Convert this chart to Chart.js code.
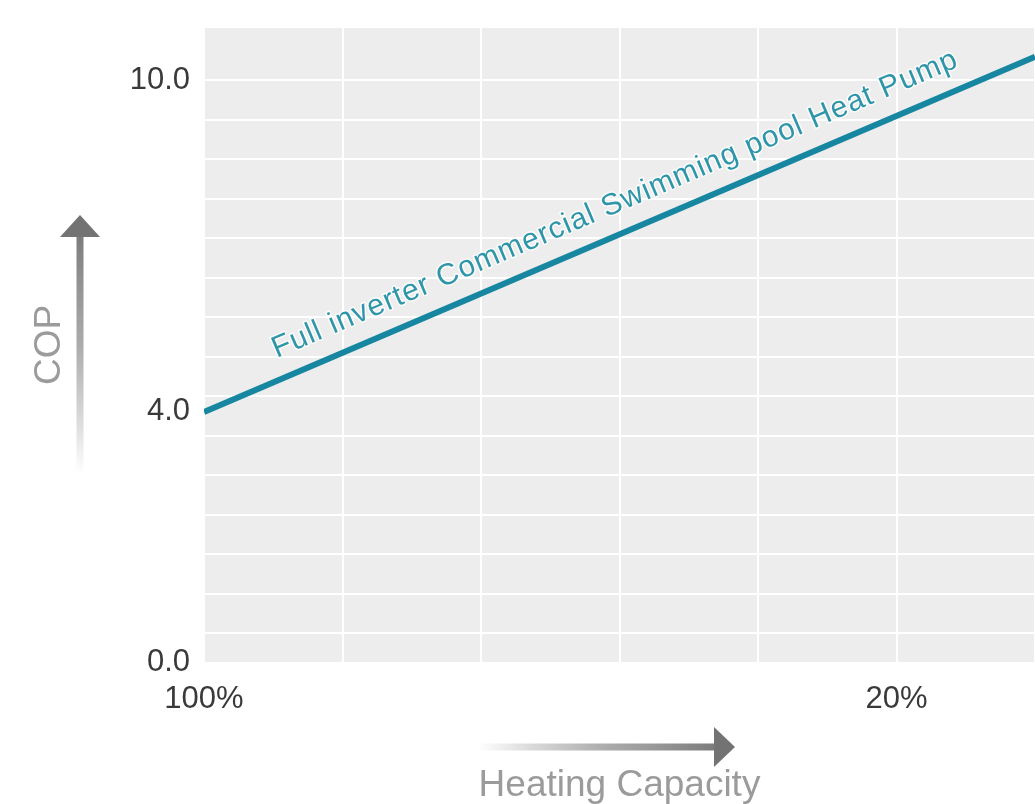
<!DOCTYPE html>
<html>
<head>
<meta charset="utf-8">
<title>COP vs Heating Capacity</title>
<script src="https://cdn.jsdelivr.net/npm/chart.js@4.4.1/dist/chart.umd.min.js"></script>
<style>
  html, body { margin: 0; padding: 0; background: #fff; }
  canvas { display: block; }
</style>
</head>
<body>
<canvas id="copChart" width="1035" height="804"></canvas>
<script>
// x = grid column (0 -> 100% capacity, 5 -> 20%), y = COP
const capacitySteps = [0, 6];
const copValues = [4.0, 10.42];
const xTickLabels = ['100%', '', '', '', '', '20%', ''];
const copTickLabels = [0.0, 4.0, 10.0];
const lineLabel = 'Full inverter Commercial Swimming pool Heat Pump';
const yTitle = 'COP';
const xTitle = 'Heating Capacity';

const FONT = '"Liberation Sans", Arial, sans-serif';
const lineColor = '#1786a0';
const labelColor = '#2f96a9';

// grey plot background
const plotBg = {
  id: 'plotBg',
  beforeDraw(chart) {
    const { ctx, chartArea: a } = chart;
    ctx.save();
    ctx.fillStyle = '#ededed';
    ctx.fillRect(a.left, a.top, a.right - a.left, a.bottom - a.top);
    ctx.restore();
  }
};

// text along the line + the two grey arrows
const extras = {
  id: 'extras',
  afterDatasetsDraw(chart) {
    const ctx = chart.ctx;
    const pts = chart.getDatasetMeta(0).data;
    const p0 = pts[0], p1 = pts[pts.length - 1];
    const ang = Math.atan2(p1.y - p0.y, p1.x - p0.x);
    ctx.save();
    ctx.translate(p0.x, p0.y);
    ctx.rotate(ang);
    ctx.font = '30px ' + FONT;
    ctx.letterSpacing = '1px';
    ctx.textBaseline = 'alphabetic';
    ctx.lineJoin = 'round';
    ctx.strokeStyle = 'rgba(255,255,255,0.8)';
    ctx.lineWidth = 3;
    ctx.strokeText(lineLabel, 88, -21);
    ctx.fillStyle = labelColor;
    ctx.fillText(lineLabel, 88, -21);
    ctx.restore();
  },
  afterDraw(chart) {
    const ctx = chart.ctx;
    const a = chart.chartArea;
    ctx.save();

    // horizontal arrow under the x axis
    const hy = a.bottom + 85;
    const hx0 = a.left + 274, hx1 = a.left + 531;
    let g = ctx.createLinearGradient(hx0, 0, hx1, 0);
    g.addColorStop(0, 'rgba(140,140,140,0)');
    g.addColorStop(0.5, 'rgba(150,150,150,0.8)');
    g.addColorStop(1, '#727272');
    ctx.fillStyle = g;
    ctx.fillRect(hx0, hy - 3.5, hx1 - hx0 - 18, 7);
    ctx.fillStyle = '#737373';
    ctx.beginPath();
    ctx.moveTo(hx1 - 21, hy - 20);
    ctx.lineTo(hx1, hy);
    ctx.lineTo(hx1 - 21, hy + 20);
    ctx.closePath();
    ctx.fill();

    // vertical arrow left of the y labels
    const vx = 80;
    const vTop = a.top + 187, vBot = a.top + 445;
    g = ctx.createLinearGradient(0, vTop, 0, vBot);
    g.addColorStop(0, '#727272');
    g.addColorStop(0.5, 'rgba(150,150,150,0.8)');
    g.addColorStop(1, 'rgba(140,140,140,0)');
    ctx.fillStyle = g;
    ctx.fillRect(vx - 3.5, vTop + 20, 7, vBot - vTop - 20);
    ctx.fillStyle = '#737373';
    ctx.beginPath();
    ctx.moveTo(vx - 20, vTop + 22);
    ctx.lineTo(vx, vTop);
    ctx.lineTo(vx + 20, vTop + 22);
    ctx.closePath();
    ctx.fill();

    ctx.restore();
  }
};

const yMin = -0.52;

new Chart(document.getElementById('copChart'), {
  type: 'line',
  data: {
    datasets: [{
      data: capacitySteps.map((x, i) => ({ x: x, y: copValues[i] })),
      borderColor: lineColor,
      borderWidth: 6,
      pointRadius: 0,
      tension: 0,
      fill: false
    }]
  },
  options: {
    responsive: false,
    devicePixelRatio: 1,
    animation: false,
    layout: { autoPadding: false, padding: { top: 28, right: 0, left: 0, bottom: 0 } },
    plugins: {
      legend: { display: false },
      tooltip: { enabled: false }
    },
    scales: {
      x: {
        type: 'linear',
        min: 0,
        max: 6,
        border: { display: false },
        grid: { color: '#ffffff', lineWidth: 2, drawTicks: false },
        ticks: {
          stepSize: 1,
          autoSkip: false,
          maxRotation: 0,
          padding: 19,
          color: '#3a3a3a',
          font: { family: FONT, size: 31 },
          callback: (v) => xTickLabels[v] || ''
        },
        title: {
          display: true,
          text: xTitle,
          color: '#9b9b9b',
          font: { family: FONT, size: 37, lineHeight: 1 },
          padding: { top: 0, bottom: 0 }
        },
        afterFit: (s) => {
          s.height = 142;
          s.paddingLeft = 0;
          s.paddingRight = 0;
        }
      },
      y: {
        type: 'linear',
        min: yMin,
        max: 10.94,
        border: { display: false },
        grid: {
          lineWidth: 2,
          drawTicks: false,
          color: (c) => (c.tick && (c.tick.value === 4 || c.tick.value === yMin)) ? 'rgba(0,0,0,0)' : '#ffffff'
        },
        afterBuildTicks: (axis) => {
          const t = [];
          for (let k = 0; k <= 14; k++) t.push(k * 10 / 14);
          t.push(copTickLabels[1]);
          // the reference prints 0.0 at the plot floor
          t.push(yMin);
          t.sort((a, b) => a - b);
          axis.ticks = t.map((v) => ({ value: v }));
        },
        ticks: {
          autoSkip: false,
          padding: 14,
          color: '#3a3a3a',
          font: { family: FONT, size: 31 },
          callback: (v) => {
            if (v === yMin) return copTickLabels[0].toFixed(1);
            if (v === copTickLabels[1]) return copTickLabels[1].toFixed(1);
            if (Math.abs(v - copTickLabels[2]) < 1e-9) return copTickLabels[2].toFixed(1);
            return '';
          }
        },
        title: {
          display: true,
          text: yTitle,
          color: '#9b9b9b',
          font: { family: FONT, size: 37, lineHeight: 1 },
          padding: { top: 31, bottom: 0 }
        },
        afterFit: (s) => {
          s.width = 204;
          s.paddingTop = 0;
          s.paddingBottom = 0;
        }
      }
    }
  },
  plugins: [plotBg, extras]
});
</script>
</body>
</html>
